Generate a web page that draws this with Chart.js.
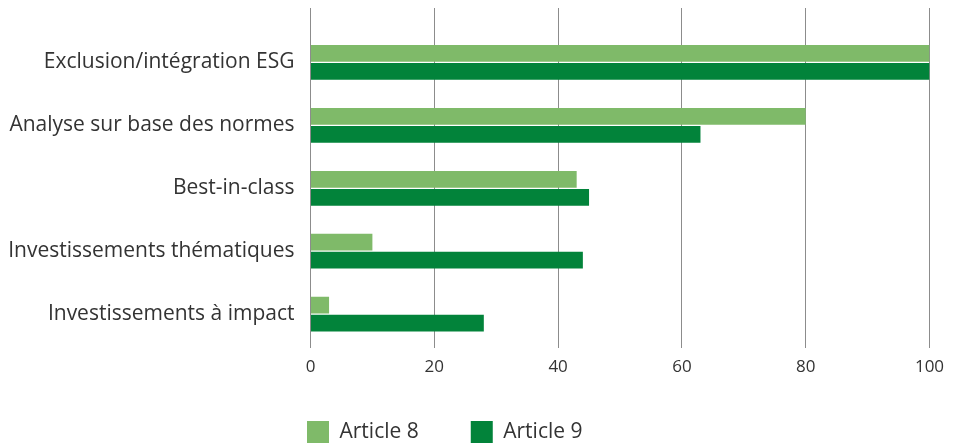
<!DOCTYPE html>
<html>
<head>
<meta charset="utf-8">
<script src="https://cdn.jsdelivr.net/npm/chart.js@4.4.1/dist/chart.umd.min.js"></script>
<style>
  html, body { margin: 0; padding: 0; background: #ffffff; }
  #wrap { width: 957px; height: 447px; }
</style>
</head>
<body>
<div id="wrap"><canvas id="c" width="957" height="447"></canvas></div>
<script>
const categories = [
  'Exclusion/intégration ESG',
  'Analyse sur base des normes',
  'Best-in-class',
  'Investissements thématiques',
  'Investissements à impact'
];
const article8 = [100, 80, 43, 10, 3];
const article9 = [100, 63, 45, 44, 28];
const seriesNames = ['Article 8', 'Article 9'];
const xTickValues = [0, 20, 40, 60, 80, 100];

const FONT = "'Open Sans', 'Noto Sans', sans-serif";
const TEXT = '#333333';
const GRID = '#8c8c8c';

const legendPlace = {
  id: 'legendPlace',
  beforeDraw(chart) {
    const lg = chart.legend;
    if (!lg) return;
    const pad = lg.options.labels.padding;
    const w = lg.width, h = lg.height;
    lg.left = chart.chartArea.left - 3.5 - pad;
    lg.right = lg.left + w;
    lg.top = chart.height - 26 - pad;
    lg.bottom = lg.top + h;
  }
};

new Chart(document.getElementById('c'), {
  type: 'bar',
  data: {
    datasets: [
      {
        label: seriesNames[0],
        data: categories.map((c, i) => ({ x: article8[i], y: i })),
        backgroundColor: '#7fba69',
        borderWidth: 0
      },
      {
        label: seriesNames[1],
        data: categories.map((c, i) => ({ x: article9[i], y: i })),
        backgroundColor: '#02833a',
        borderWidth: 0
      }
    ]
  },
  options: {
    indexAxis: 'y',
    responsive: false,
    animation: false,
    categoryPercentage: 0.572,
    barPercentage: 0.93,
    layout: { padding: { top: 8, right: 27.5, bottom: -24, left: 0 } },
    scales: {
      x: {
        type: 'linear',
        position: 'bottom',
        min: 0,
        max: 100,
        afterBuildTicks: s => { s.ticks = xTickValues.map(v => ({ value: v })); },
        afterFit: s => { s.height = 44; },
        grid: { color: GRID, lineWidth: 1, drawTicks: true, tickLength: 5, tickColor: GRID },
        border: { display: false },
        ticks: { font: { family: FONT, size: 17 }, color: TEXT, padding: 9 }
      },
      y: {
        type: 'linear',
        reverse: true,
        offset: false,
        min: -0.866,
        max: 4.46,
        afterBuildTicks: s => { s.ticks = categories.map((c, i) => ({ value: i })); },
        afterFit: s => { s.width = 310.5; s.paddingTop = 0; s.paddingBottom = 0; },
        grid: { display: false, drawTicks: false, offset: false },
        border: { display: false },
        ticks: {
          autoSkip: false,
          font: { family: FONT, size: 21 },
          color: TEXT,
          padding: 16,
          callback: v => categories[v]
        }
      }
    },
    plugins: {
      legend: {
        position: 'bottom',
        align: 'start',
        labels: {
          boxWidth: 22,
          boxHeight: 22,
          padding: 52,
          color: TEXT,
          font: { family: FONT, size: 21 }
        }
      },
      tooltip: { enabled: false }
    }
  },
  plugins: [legendPlace]
});
</script>
</body>
</html>
